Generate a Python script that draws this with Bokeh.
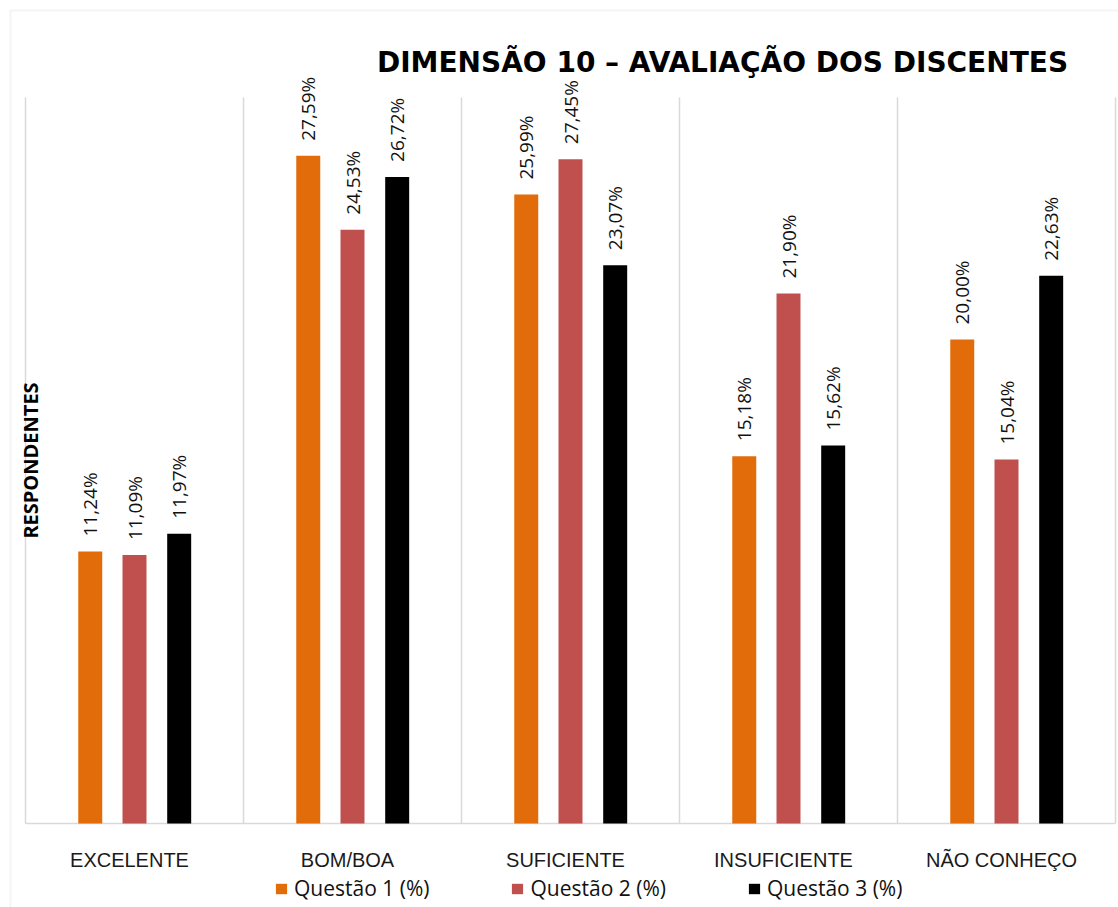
from bokeh.plotting import figure
from bokeh.models import Range1d, Label, Legend, LegendItem, ColumnDataSource, BoxAnnotation
from bokeh.core.properties import value
from bokeh.embed import file_html
from bokeh.resources import INLINE
import math

categories = ["EXCELENTE", "BOM/BOA", "SUFICIENTE", "INSUFICIENTE", "NÃO CONHEÇO"]
series_names = ["Questão 1 (%)", "Questão 2 (%)", "Questão 3 (%)"]
q1 = [11.24, 27.59, 25.99, 15.18, 20.00]
q2 = [11.09, 24.53, 27.45, 21.90, 15.04]
q3 = [11.97, 26.72, 23.07, 15.62, 22.63]
colors = ["#E36C0A", "#C0504D", "#000000"]

FONT = "Open Sans"
W, H = 1118, 907
n = len(categories)
YMAX = 30
# layout: plot area from px 25..1115 horizontally, 97..823 vertically
px_x = (1115 - 25) / n
px_y = (823 - 97) / YMAX
x_range = Range1d(-25 / px_x, n + (W - 1115) / px_x)
y_range = Range1d(-(H - 823) / px_y, YMAX + 97 / px_y)

p = figure(width=W, height=H, output_backend="svg", toolbar_location=None,
           x_range=x_range, y_range=y_range,
           min_border_left=0, min_border_right=0, min_border_top=0, min_border_bottom=0)
p.outline_line_color = None
p.background_fill_color = "white"
p.border_fill_color = "white"
p.xaxis.visible = False
p.yaxis.visible = False
p.xgrid.visible = False
p.ygrid.visible = False

# outer chart-area border (top and left)
p.add_layout(BoxAnnotation(left=-15 / px_x, right=n + 1, top=YMAX + 87 / px_y, bottom=-10,
                           fill_alpha=0, line_color="#d9d9d9", line_width=2))

# category separators and baseline
bounds = list(range(n + 1))
p.segment(x0=bounds, x1=bounds, y0=[0] * len(bounds), y1=[YMAX] * len(bounds),
          line_color="#d9d9d9", line_width=1.5)
p.segment(x0=[0], x1=[n], y0=[0], y1=[0], line_color="#d9d9d9", line_width=1.5)

centers = [i + 0.5 for i in range(n)]
p.text(x=centers, y=[0] * n, text=categories, x_offset=-5, y_offset=36,
       text_align="center", text_baseline="alphabetic",
       text_font=value("Liberation Sans"), text_font_size="20px", text_color="#1a1a1a")

offsets = [-0.203, 0.0, 0.205]
items = []
for vals, name, col, off in zip([q1, q2, q3], series_names, colors, offsets):
    src = ColumnDataSource(dict(
        x=[c + off for c in centers],
        top=vals,
        lab=[("%.2f%%" % v).replace(".", ",") for v in vals],
    ))
    r = p.vbar(x="x", top="top", width=0.11, bottom=0, source=src,
               fill_color=col, line_color=None)
    p.text(x="x", y="top", text="lab", source=src, angle=math.pi / 2,
           text_align="left", text_baseline="middle", y_offset=-15,
           text_font=value(FONT), text_font_size="19px", text_color="#111111")
    items.append(LegendItem(label=name, renderers=[r]))

legend = Legend(items=items, orientation="horizontal", location=(274, 5),
                glyph_width=14, glyph_height=13, label_standoff=6, spacing=81,
                label_text_font=FONT, label_text_font_size="21px",
                label_text_color="#111111",
                padding=0, margin=0, border_line_color=None,
                background_fill_alpha=0)
p.add_layout(legend, "center")

title = Label(x=(722 - 25) / px_x, y=YMAX, y_offset=35,
              text="DIMENSÃO 10 – AVALIAÇÃO DOS DISCENTES",
              text_align="center", text_baseline="alphabetic",
              text_font="DejaVu Sans", text_font_style="bold", text_font_size="28px",
              text_color="#000000")
p.add_layout(title)

ylab = Label(x=0, y=YMAX / 2, x_offset=-9, text="RESPONDENTES", angle=math.pi / 2,
             text_align="center", text_baseline="top",
             text_font=FONT, text_font_style="bold", text_font_size="20px",
             text_color="#000000")
p.add_layout(ylab)

open("out.html", "w").write(file_html(p, INLINE))
